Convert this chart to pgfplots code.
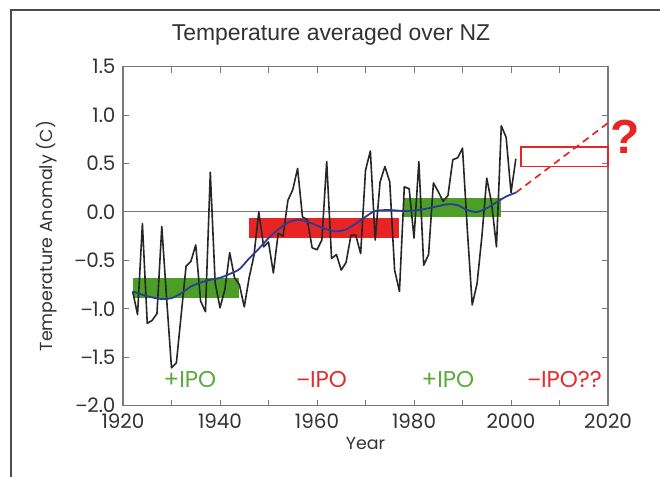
\documentclass[border=0pt]{standalone}
\usepackage{pgfplots}
\pgfplotsset{compat=1.18}
\usepackage{fontspec}
\setmainfont{Poppins}
\newfontfamily\titlefont{Liberation Sans}
\newcommand{\mn}{{\titlefont −}}
\definecolor{barGreen}{RGB}{76,158,38}
\definecolor{barRed}{RGB}{232,36,36}
\definecolor{lineBlue}{RGB}{40,62,150}
\definecolor{txtGreen}{RGB}{90,170,60}
\definecolor{txtRed}{RGB}{225,45,45}
\definecolor{axGray}{RGB}{120,120,120}
\definecolor{txtGray}{RGB}{50,50,50}
\pgfplotstableread{
year val
1922 -0.82
1923 -1.06
1924 -0.12
1925 -1.15
1926 -1.12
1927 -1.05
1928 -0.15
1929 -0.90
1930 -1.61
1931 -1.56
1932 -1.06
1933 -0.56
1934 -0.51
1935 -0.34
1936 -0.92
1937 -1.03
1938 0.41
1939 -0.73
1940 -0.99
1941 -0.80
1942 -0.42
1943 -0.68
1944 -0.75
1945 -0.98
1946 -0.68
1947 -0.45
1948 0.00
1949 -0.36
1950 -0.31
1951 -0.63
1952 -0.22
1953 -0.25
1954 0.12
1955 0.23
1956 0.45
1957 -0.05
1958 -0.08
1959 -0.37
1960 -0.39
1961 -0.29
1962 0.52
1963 -0.48
1964 -0.44
1965 -0.60
1966 -0.52
1967 -0.24
1968 -0.24
1969 -0.43
1970 0.43
1971 0.63
1972 -0.29
1973 0.31
1974 0.47
1975 0.31
1976 -0.60
1977 -0.82
1978 0.26
1979 0.24
1980 -0.27
1981 0.52
1982 -0.55
1983 -0.44
1984 0.30
1985 0.21
1986 0.11
1987 0.17
1988 0.54
1989 0.56
1990 0.66
1991 -0.19
1992 -0.96
1993 -0.74
1994 -0.25
1995 0.35
1996 0.09
1997 -0.36
1998 0.89
1999 0.77
2000 0.20
2001 0.55
}\annual
\pgfplotstableread{
year val
1922 -0.82
1925 -0.87
1928 -0.90
1930 -0.89
1932 -0.84
1934 -0.77
1936 -0.73
1938 -0.70
1940 -0.68
1942 -0.64
1944 -0.59
1946 -0.48
1948 -0.38
1950 -0.27
1952 -0.18
1954 -0.11
1956 -0.08
1958 -0.10
1960 -0.14
1962 -0.18
1964 -0.20
1966 -0.18
1968 -0.12
1970 -0.05
1972 0.01
1975 0.02
1978 0.01
1981 0.02
1984 0.05
1987 0.08
1989 0.07
1991 0.02
1993 0.00
1995 0.04
1997 0.10
1999 0.16
2001 0.20
}\smoothed
\begin{document}
\begin{tikzpicture}[x=1bp,y=1bp]
\path[use as bounding box] (0,0) rectangle (660,477);
\draw[color=black!70, line width=1.3bp] (11,0) -- (11,467) -- (660,467);
\node[font=\titlefont\fontsize{23}{27}\selectfont, text=txtGray] at (331,442) {Temperature averaged over NZ};
\begin{axis}[
  at={(123bp,71.4bp)}, anchor=south west,
  scale only axis, width=485bp, height=338.8bp,
  xmin=1920, xmax=2020, ymin=-2, ymax=1.5,
  clip=false,
  axis line style={axGray, line width=1.1bp},
  every tick/.style={axGray, line width=1bp},
  major tick length=6bp,
  tick align=inside,
  xtick={1920,1930,...,2020},
  xticklabels={1920,,1940,,1960,,1980,,2000,,2020},
  ytick={-2,-1.5,-1,-0.5,0,0.5,1,1.5},
  yticklabels={\mn2.0,\mn1.5,\mn1.0,\mn0.5,0.0,0.5,1.0,1.5},
  ticklabel style={font=\fontsize{20}{22}\selectfont, text=txtGray},
  xticklabel style={yshift=-5bp},
  yticklabel style={xshift=-4bp},
  xlabel={Year},
  ylabel={Temperature Anomaly (C)},
  label style={font=\fontsize{17.5}{19}\selectfont, text=txtGray},
  xlabel style={at={(axis description cs:0.5,-0.113)}, anchor=center},
  ylabel style={at={(axis description cs:-0.157,0.5)}, anchor=center},
]
\addplot[axGray, line width=1bp, forget plot] coordinates {(1920,0) (2020,0)};
\addplot[fill=barGreen, draw=none] coordinates {(1922,-0.89) (1944,-0.89) (1944,-0.68) (1922,-0.68)} -- cycle;
\addplot[fill=barRed, draw=none] coordinates {(1946,-0.27) (1977,-0.27) (1977,-0.065) (1946,-0.065)} -- cycle;
\addplot[fill=barGreen, draw=none] coordinates {(1977.8,-0.055) (1998,-0.055) (1998,0.145) (1977.8,0.145)} -- cycle;
\addplot[black!85, line width=1.6bp, line join=round] table[x=year,y=val] {\annual};
\addplot[lineBlue, line width=1.8bp, smooth] table[x=year,y=val] {\smoothed};
\addplot[barRed, line width=1.7bp, dash pattern=on 7bp off 5bp] coordinates {(2001,0.2) (2020,0.92)};
\addplot[barRed, line width=1.7bp] coordinates {(2002,0.47) (2020,0.47) (2020,0.67) (2002,0.67)} -- cycle;
\node[font=\fontsize{23}{25}\selectfont, text=txtGreen] at (axis cs:1933.8,-1.735) {+IPO};
\node[font=\fontsize{23}{25}\selectfont, text=txtRed] at (axis cs:1961,-1.735) {\mn IPO};
\node[font=\fontsize{23}{25}\selectfont, text=txtGreen] at (axis cs:1987,-1.735) {+IPO};
\node[font=\fontsize{23}{25}\selectfont, text=txtRed] at (axis cs:2011.1,-1.735) {\mn IPO??};
\end{axis}
\node[font=\titlefont\bfseries\fontsize{48}{50}\selectfont, text=barRed] at (625,340) {?};
\end{tikzpicture}
\end{document}
